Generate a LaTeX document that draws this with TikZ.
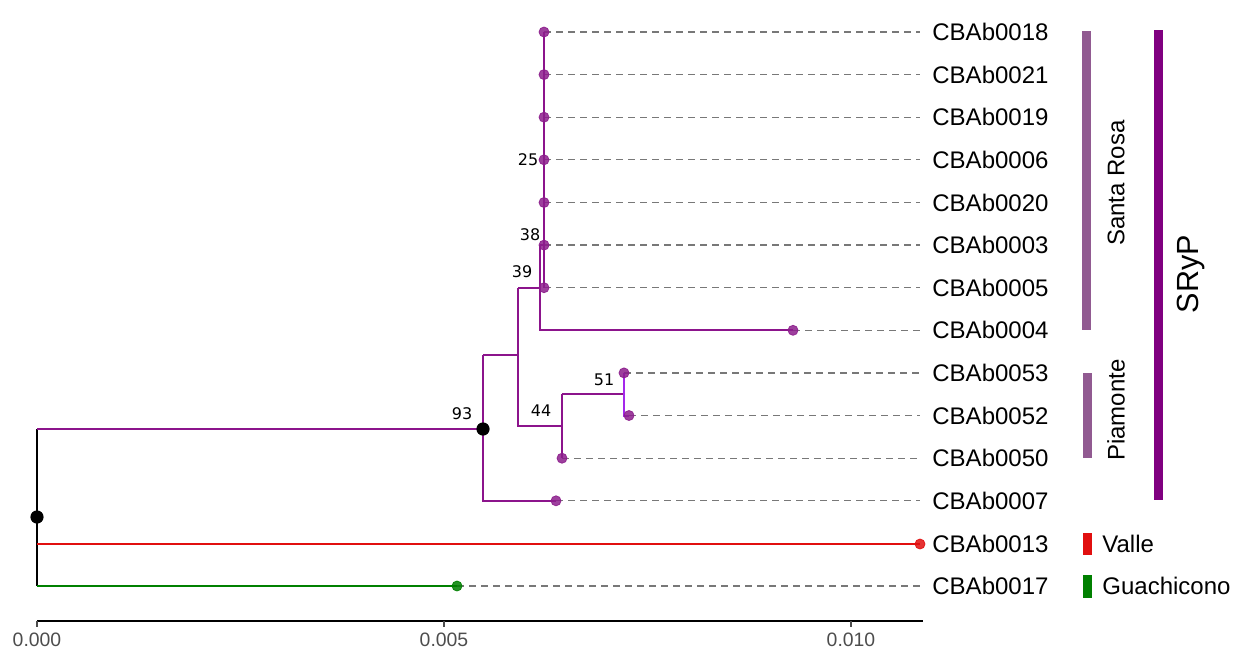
\documentclass[tikz,border=0pt]{standalone}
\usepackage{fontspec}
\setmainfont{Liberation Sans}
\newfontfamily\bootfont{DejaVu Sans}
\definecolor{br}{RGB}{140,20,140}
\definecolor{dotc}{RGB}{140,30,140}
\definecolor{lightp}{RGB}{165,40,235}
\definecolor{srbar}{RGB}{145,90,145}
\definecolor{srypbar}{RGB}{128,0,128}
\definecolor{valred}{RGB}{225,15,15}
\definecolor{guagreen}{RGB}{0,128,0}
\definecolor{dashgray}{RGB}{120,120,120}
\definecolor{ticktext}{RGB}{77,77,77}
\tikzset{
  branch/.style={line width=1pt, draw=br},
  guide/.style={draw=dashgray, line width=0.65pt, dash pattern=on 3.5pt off 2.5pt},
  tipdot/.style={circle, fill=#1, fill opacity=0.85, draw=#1, draw opacity=0.9, line width=0.4pt, inner sep=0pt, minimum size=5pt},
  tipdot/.default=dotc,
  blackdot/.style={circle, fill=black, inner sep=0pt, minimum size=6.6pt},
  tiplab/.style={anchor=west, font=\fontsize{12}{14}\selectfont, inner sep=0pt},
  boot/.style={font=\bootfont\fontsize{8}{9}\selectfont, inner sep=0pt},
  grpbar/.style={fill=#1, draw=none},
  grplab/.style={font=\fontsize{12}{14}\selectfont, inner sep=0pt, rotate=90},
  ticklab/.style={font=\fontsize{9.7}{11}\selectfont, text=ticktext, inner sep=0pt},
}
\begin{document}
\begin{tikzpicture}[x=0.5pt, y=-0.5pt]
\path[use as bounding box] (0,0) rectangle (1247,654);

% ---- tip labels
\node[tiplab] (L18) at (932,32)    {CBAb0018};
\node[tiplab] (L21) at (932,74.6)  {CBAb0021};
\node[tiplab] (L19) at (932,117.2) {CBAb0019};
\node[tiplab] (L06) at (932,159.8) {CBAb0006};
\node[tiplab] (L20) at (932,202.5) {CBAb0020};
\node[tiplab] (L03) at (932,245.1) {CBAb0003};
\node[tiplab] (L05) at (932,287.7) {CBAb0005};
\node[tiplab] (L04) at (932,330.3) {CBAb0004};
\node[tiplab] (L53) at (932,372.9) {CBAb0053};
\node[tiplab] (L52) at (932,415.5) {CBAb0052};
\node[tiplab] (L50) at (932,458.2) {CBAb0050};
\node[tiplab] (L07) at (932,500.8) {CBAb0007};
\node[tiplab] (L13) at (932,544)   {CBAb0013};
\node[tiplab] (L17) at (932,586)   {CBAb0017};

% ---- tip coordinates
\coordinate (t18) at (544,32);
\coordinate (t21) at (544,74.6);
\coordinate (t19) at (544,117.2);
\coordinate (t06) at (544,159.8);
\coordinate (t20) at (544,202.5);
\coordinate (t03) at (544,245.1);
\coordinate (t05) at (544,287.7);
\coordinate (t04) at (793,330.3);
\coordinate (t53) at (624,372.9);
\coordinate (t52) at (629,415.5);
\coordinate (t50) at (562,458.2);
\coordinate (t07) at (556,500.8);
\coordinate (t13) at (920,544);
\coordinate (t17) at (457,586);

% ---- dashed guides
\foreach \t/\l in {t18/L18,t21/L21,t19/L19,t06/L06,t20/L20,t03/L03,t05/L05,t04/L04,t53/L53,t52/L52,t50/L50,t07/L07,t17/L17}
  \draw[guide] (\t) -- ([xshift=-6pt]\l.west);

% ---- internal coordinates
\coordinate (root) at (37,517);
\coordinate (rtop) at (37,429);
\coordinate (rred) at (37,544);
\coordinate (rbot) at (37,586);
\coordinate (n93) at (483,429);
\coordinate (n93top) at (483,355);
\coordinate (n93bot) at (483,500.8);
\coordinate (n39) at (518,355);
\coordinate (n39top) at (518,287.7);
\coordinate (n39bot) at (518,426);
\coordinate (n44) at (562,426);
\coordinate (n44top) at (562,394);
\coordinate (n51) at (624,394);
\coordinate (n51bot) at (624,415.5);
\coordinate (n38top) at (539.5,245.1);
\coordinate (n38mid) at (539.5,287.7);
\coordinate (n38bot) at (539.5,330.3);

% ---- branches
\draw[line width=0.8pt, draw=black] (rtop) -- (rbot);
\draw[branch] (rtop) -- (n93);
\draw[branch] (n93top) -- (n93bot) -- (t07);
\draw[branch] (n93top) -- (n39);
\draw[branch] (n39top) -- (n39bot) -- (n44);
\draw[branch] (n44top) -- (t50);
\draw[branch] (n44top) -- (n51);
\draw[line width=1pt, draw=lightp] (t53) -- (n51bot) -- (t52);
\draw[branch] (n39top) -- (n38mid);
\draw[branch] (n38top) -- (n38bot) -- (t04);
\draw[branch] (n38top) -- (t03);
\draw[branch] (t18) -- (t05);
\draw[line width=1.1pt, draw=valred] (rred) -- (t13);
\draw[line width=1pt, draw=guagreen] (rbot) -- (t17);

% ---- dots
\foreach \t in {t18,t21,t19,t06,t20,t03,t05,t04,t53,t52,t50,t07}
  \node[tipdot] at (\t) {};
\node[tipdot=valred] at (t13) {};
\node[tipdot=guagreen] at (t17) {};
\node[blackdot] (rootdot) at (root) {};
\node[blackdot] (n93dot) at (n93) {};

% ---- bootstrap values
\node[boot] (b25) at (528,160) {25};
\node[boot] (b38) at (530,235) {38};
\node[boot] (b39) at (522,272) {39};
\node[boot] (b93) at (462,414) {93};
\node[boot] (b44) at (541,411) {44};
\node[boot] (b51) at (604,380) {51};

% ---- group bars
\fill[grpbar=srbar] (1082,31) rectangle (1091,330);
\fill[grpbar=srbar] (1083,373) rectangle (1092,458);
\fill[grpbar=srypbar] (1154,30) rectangle (1163,500);
\fill[grpbar=valred] (1083,533) rectangle (1092,555);
\fill[grpbar=guagreen] (1083,575) rectangle (1092,598);
\node[grplab] (gsr) at (1116,183) {Santa Rosa};
\node[grplab] (gpi) at (1116,410) {Piamonte};
\node[grplab, font=\fontsize{15.3}{18}\selectfont] (gsryp) at (1191,274) {SRyP};
\node[tiplab] (gva) at (1102,544) {Valle};
\node[tiplab] (ggu) at (1102,586) {Guachicono};

% ---- axis
\coordinate (ax0) at (37,621);
\coordinate (ax1) at (923,621);
\draw[line width=1.25pt, draw=black] (ax0) -- (ax1);
\foreach \x/\lab in {37/0.000, 444/0.005, 851/0.010}{
  \draw[line width=0.6pt, draw=black!70] (\x,621) -- (\x,627);
  \node[ticklab] at (\x,640) {\lab};
}
\end{tikzpicture}
\end{document}
